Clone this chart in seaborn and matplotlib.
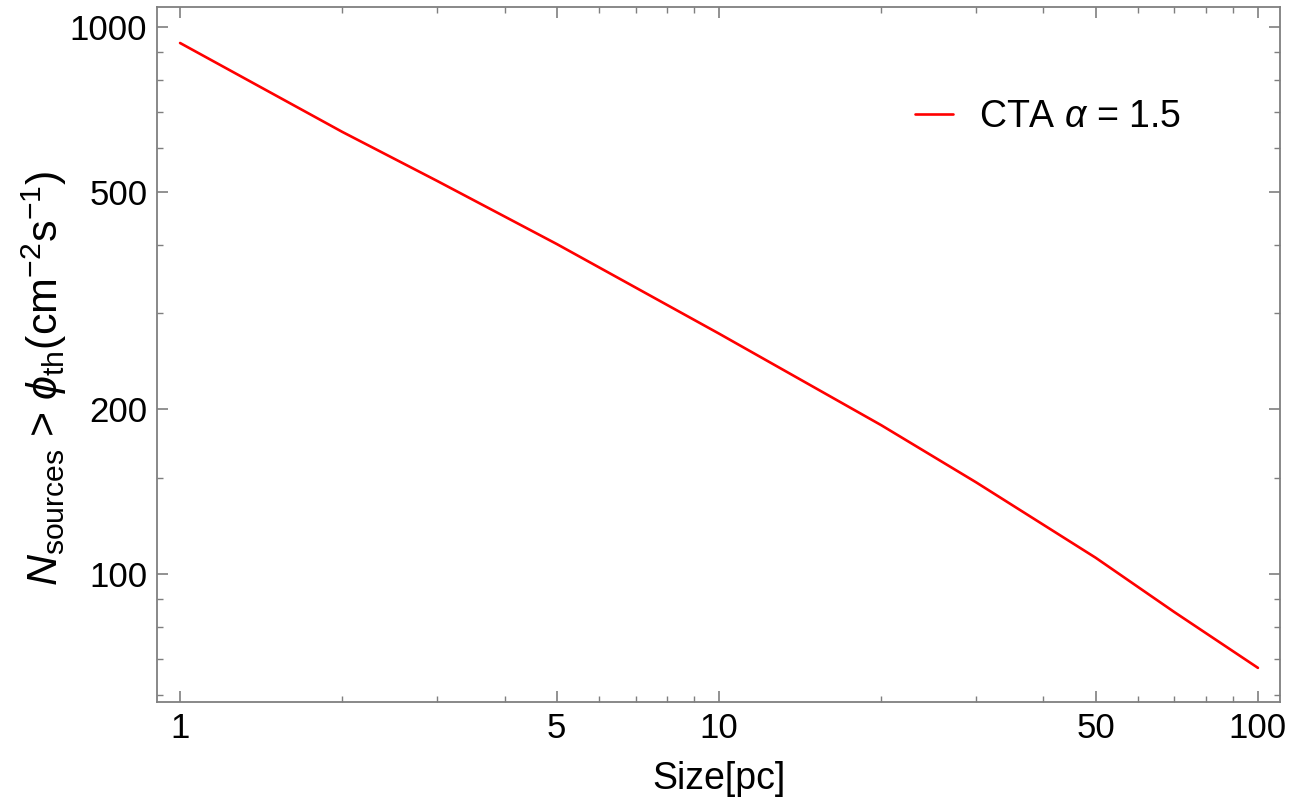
import matplotlib
matplotlib.use("Agg")
import matplotlib.pyplot as plt
import matplotlib.ticker as mticker
import pandas as pd
import seaborn as sns

# source size [pc] and number of sources above flux threshold
size_pc = [1, 2, 3, 5, 10, 20, 30, 50, 70, 100]
n_sources = [935, 643, 523, 401, 275, 187, 147, 107, 85.1, 67.3]
label = r"CTA $\alpha$ = 1.5"

df = pd.DataFrame({"Size": size_pc, "N": n_sources, "curve": label})

sns.set_style("ticks")
plt.rcParams["font.family"] = ["Liberation Sans", "DejaVu Sans"]
plt.rcParams["mathtext.fontset"] = "custom"
plt.rcParams["mathtext.rm"] = "Liberation Sans"
plt.rcParams["mathtext.it"] = "Liberation Sans:italic"
plt.rcParams["mathtext.fallback"] = "stixsans"

fig = plt.figure(figsize=(12.94, 8.05), dpi=100)
ax = fig.add_axes([0.1213, 0.128, 0.8679, 0.8633])

sns.lineplot(data=df, x="Size", y="N", hue="curve", palette=["#ff0000"],
             linewidth=1.9, ax=ax)

ax.set_xscale("log")
ax.set_yscale("log")
ax.set_xlim(0.906, 109.9)
ax.set_ylim(58.3, 1088)

ax.xaxis.set_major_locator(mticker.FixedLocator([1, 5, 10, 50, 100]))
ax.xaxis.set_major_formatter(mticker.FixedFormatter(["1", "5", "10", "50", "100"]))
ax.xaxis.set_minor_locator(mticker.FixedLocator([2, 3, 4, 6, 7, 8, 9, 20, 30, 40, 60, 70, 80, 90]))
ax.xaxis.set_minor_formatter(mticker.NullFormatter())
ax.yaxis.set_major_locator(mticker.FixedLocator([100, 200, 500, 1000]))
ax.yaxis.set_major_formatter(mticker.FixedFormatter(["100", "200", "500", "1000"]))
ax.yaxis.set_minor_locator(mticker.FixedLocator([60, 70, 80, 90, 150, 300, 400, 600, 700, 800, 900]))
ax.yaxis.set_minor_formatter(mticker.NullFormatter())

gray = "#7f7f7f"
for s in ax.spines.values():
    s.set_visible(True)
    s.set_color(gray)
    s.set_linewidth(1.3)
ax.tick_params(which="both", direction="in", top=True, right=True, color=gray,
               labelsize=25, labelcolor="black")
ax.tick_params(which="major", length=8, width=1.2, pad=7)
ax.tick_params(which="minor", length=4.5, width=1.0)

ax.set_xlabel("Size[pc]", fontsize=27, labelpad=12, color="black")
ax.set_ylabel(r"$N_{\rm sources}$ > $\phi_{\rm th}(\rm cm^{-2}s^{-1})$", fontsize=31,
              color="black")
ax.yaxis.set_label_coords(-0.078, 0.466)

leg = ax.legend(loc="center left", bbox_to_anchor=(0.645, 0.842), frameon=False,
                fontsize=27, handlelength=1.0, handletextpad=0.7)
for t in leg.get_texts():
    t.set_color("black")

fig.savefig("out.png", dpi=100)
